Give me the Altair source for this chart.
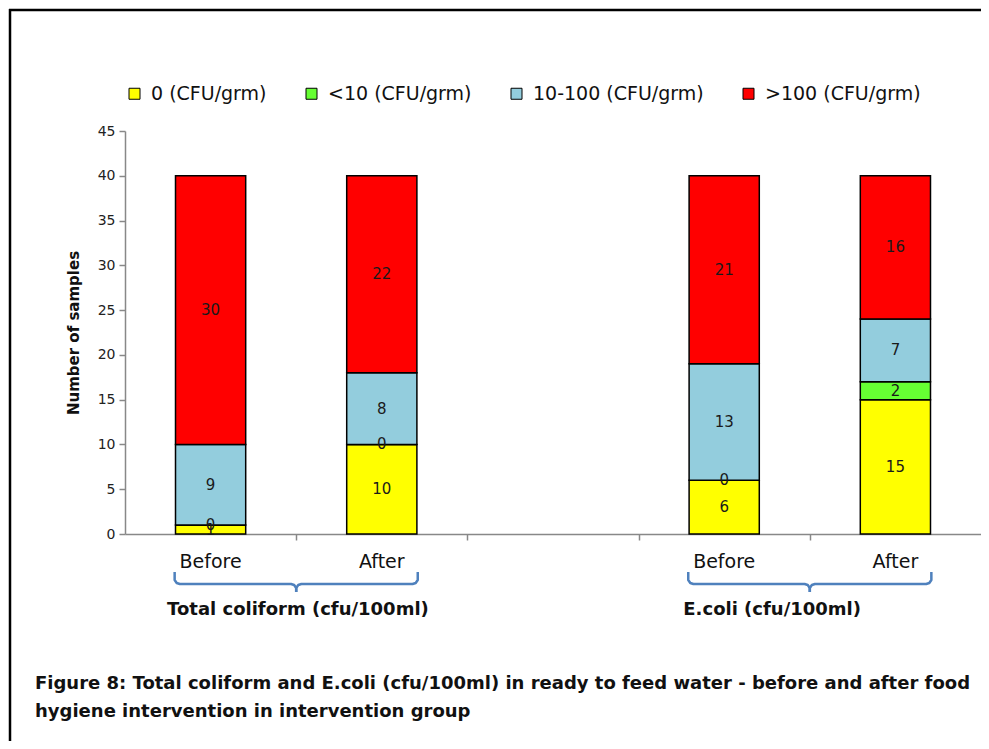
import altair as alt
import pandas as pd

# ---- data ----
groups = ["Total coliform (cfu/100ml)", "E.coli (cfu/100ml)"]
periods = ["Before", "After", "Before", "After"]
slot_centers = [0.5, 1.5, 3.5, 4.5]      # 5 category slots, the middle one empty
group_label_centers = [1.01, 3.78]
brace_centers = [1.0, 4.0]
series = ["0 (CFU/grm)", "<10 (CFU/grm)", "10-100 (CFU/grm)", ">100 (CFU/grm)"]
zero_cfu = [1, 10, 6, 15]
lt10_cfu = [0, 0, 0, 2]
mid_cfu = [9, 8, 13, 7]
gt100_cfu = [30, 22, 21, 16]
colors = ["#FFFF00", "#66FF33", "#93CDDD", "#FF0000"]
y_ticks = [0, 5, 10, 15, 20, 25, 30, 35, 40, 45]
caption = [
    "Figure 8: Total coliform and  E.coli (cfu/100ml) in ready to feed water - before and after food",
    "hygiene intervention in intervention group",
]

FONT = "DejaVu Sans"
HALF = 0.205

rows = []
for i in range(4):
    base = 0
    for k, vals in enumerate([zero_cfu, lt10_cfu, mid_cfu, gt100_cfu]):
        v = vals[i]
        rows.append(dict(bar=i, series=series[k], order=k, value=v,
                         x0=slot_centers[i] - HALF, x1=slot_centers[i] + HALF,
                         xc=slot_centers[i], y0=base, y1=base + v, ym=base + v / 2))
        base += v
df = pd.DataFrame(rows)

xscale = alt.Scale(domain=[0, 5], nice=False, zero=False)
yscale = alt.Scale(domain=[0, 45], nice=False)
pix = alt.Scale(domain=[0, 100], range=[0, 100])

bars = alt.Chart(df).mark_rect(stroke="black", strokeWidth=1.5).encode(
    x=alt.X("x0:Q", scale=xscale,
            axis=alt.Axis(values=[1, 2, 3, 4], labels=False, title=None, grid=False,
                          tickSize=6, tickColor="#888888", domainColor="#888888",
                          domainWidth=1.5, tickWidth=1.5)),
    x2="x1:Q",
    y=alt.Y("y0:Q", scale=yscale,
            axis=alt.Axis(values=y_ticks, title="Number of samples", grid=False,
                          tickSize=6, tickColor="#888888", domainColor="#888888",
                          domainWidth=1.5, tickWidth=1.5, labelFontSize=14,
                          labelFont=FONT, labelColor="#222222", labelPadding=4,
                          titleFont=FONT, titleFontSize=15, titleFontWeight="bold",
                          titleColor="#111111", titlePadding=16)),
    y2="y1:Q",
    color=alt.Color("series:N", scale=alt.Scale(domain=series, range=colors),
                    legend=alt.Legend(orient="none", legendX=0, legendY=-47,
                                      direction="horizontal", title=None,
                                      symbolType="square", symbolSize=121,
                                      symbolStrokeColor="black", symbolStrokeWidth=1,
                                      labelFont=FONT, labelFontSize=19, labelColor="#111111",
                                      labelOffset=7, columnPadding=35, labelLimit=400)),
)

labels = alt.Chart(df).mark_text(fontSize=15, font=FONT, color="#1a1a1a", baseline="middle").encode(
    x=alt.X("xc:Q", scale=xscale),
    y=alt.Y("ym:Q", scale=yscale, axis=None),
    text="value:Q",
)

pdf = pd.DataFrame({"xc": slot_centers, "period": periods})
period_text = alt.Chart(pdf).mark_text(fontSize=19, font=FONT, color="#111111", baseline="middle").encode(
    x=alt.X("xc:Q", scale=xscale), y=alt.value(431), text="period:N"
)

gdf = pd.DataFrame({"xc": group_label_centers, "group": groups})
group_text = alt.Chart(gdf).mark_text(fontSize=18, font=FONT, fontWeight="bold", color="#111111",
                                      baseline="middle").encode(
    x=alt.X("xc:Q", scale=xscale), y=alt.value(479), text="group:N"
)

# curly braces under each group (x in slot units, y in pixels below plot)
bpts = []
for g, c in enumerate(brace_centers):
    for side, sgn in (("L", -1), ("R", 1)):
        e = c + sgn * 0.71
        shape = [(e, 441), (e, 449), (e - sgn * 0.012, 452), (e - sgn * 0.03, 453),
                 (c + sgn * 0.03, 453), (c + sgn * 0.012, 454), (c, 457), (c, 461)]
        for j, (px, py) in enumerate(shape):
            bpts.append(dict(key=f"{g}{side}", i=j, bx=px, by=py))
bdf = pd.DataFrame(bpts)
braces = alt.Chart(bdf).mark_line(color="#4F81BD", strokeWidth=2.5, strokeJoin="round").encode(
    x=alt.X("bx:Q", scale=xscale),
    y=alt.Y("by:Q", scale=pix, axis=None),
    detail="key:N",
    order="i:Q",
)

cdf = pd.DataFrame({"line": caption, "yy": [553, 581]})
cap_text = alt.Chart(cdf).mark_text(fontSize=18, font=FONT, fontWeight="bold", color="#111111",
                                    align="left", baseline="middle").encode(
    x=alt.value(-90), y=alt.Y("yy:Q", scale=pix, axis=None),
    text="line:N"
)

frame_top = alt.Chart(pd.DataFrame({"a": [0]})).mark_rule(color="black", strokeWidth=2.5).encode(
    x=alt.value(-116), x2=alt.value(856), y=alt.value(-121)
)
frame_left = alt.Chart(pd.DataFrame({"a": [0]})).mark_rule(color="black", strokeWidth=2.5).encode(
    x=alt.value(-115), y=alt.value(-122), y2=alt.value(610)
)

chart = alt.layer(bars, labels, period_text, group_text, braces, cap_text, frame_top, frame_left).resolve_scale(
    y="independent"
).properties(
    width=856, height=403,
    padding={"left": 117, "top": 123, "right": 0, "bottom": 207},
    autosize="none",
).configure_view(stroke=None).configure_axis(labelFont=FONT)

chart.save("out.html", embed_options={"renderer": "svg", "actions": False})
